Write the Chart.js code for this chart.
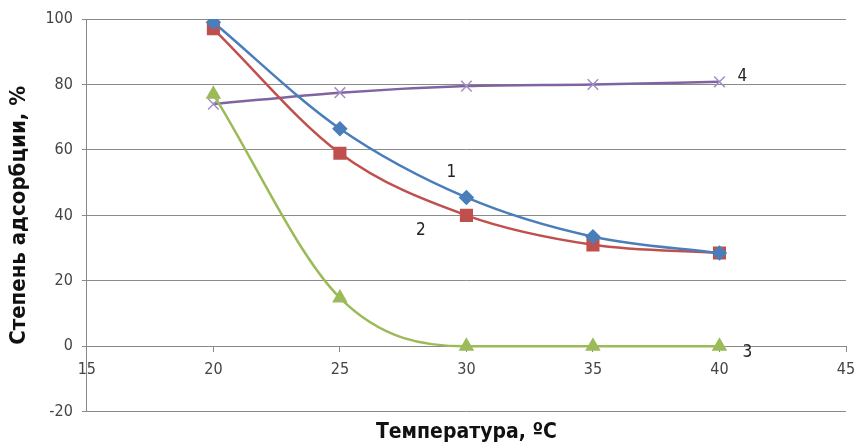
<!DOCTYPE html>
<html><head><meta charset="utf-8">
<script src="https://cdn.jsdelivr.net/npm/chart.js@4"></script>
<style>html,body{margin:0;padding:0;background:#fff}#wrap{width:856px;height:447px}</style>
</head><body><div id="wrap"><canvas id="c"></canvas></div>
<script>
const temperatures = [20, 25, 30, 35, 40];
const series1 = [99, 66.5, 45.5, 33.5, 28.5];
const series2 = [97, 59, 40, 31, 28.5];
const series3 = [77, 14.8, 0, 0, 0];
const series4 = [74, 77.5, 79.5, 80, 80.8];
const curveNames = ['1', '2', '3', '4'];
const curveLabelX = [29.4, 28.2, 41.1, 40.9];
const curveLabelY = [53, 35.5, -2, 82.5];

const pts = arr => arr.map((v, i) => ({x: temperatures[i], y: v}));
const FONT = '"DejaVu Sans Condensed", "Liberation Sans", sans-serif';

const curveLabels = {
  id: 'curveLabels',
  afterDatasetsDraw(chart) {
    const {ctx, scales: {x, y}} = chart;
    ctx.save();
    ctx.font = '17px ' + FONT;
    ctx.fillStyle = '#222';
    ctx.textAlign = 'center';
    ctx.textBaseline = 'middle';
    curveNames.forEach((t, i) => ctx.fillText(t, x.getPixelForValue(curveLabelX[i]), y.getPixelForValue(curveLabelY[i])));
    ctx.restore();
  }
};

const tickFont = {family: FONT, size: 16};

new Chart(document.getElementById('c'), {
  type: 'line',
  data: {
    datasets: [
      {data: pts(series1), borderColor: '#4A7EBB', backgroundColor: '#4A7EBB', pointStyle: 'rectRot', pointRadius: 6, borderWidth: 2.5},
      {data: pts(series2), borderColor: '#C0504D', backgroundColor: '#C0504D', pointStyle: 'rect', pointRadius: 7.5, borderWidth: 2.5},
      {data: pts(series3), borderColor: '#9BBB59', backgroundColor: '#9BBB59', pointStyle: 'triangle', pointRadius: 6.5, borderWidth: 2.5},
      {data: pts(series4), borderColor: '#8064A2', backgroundColor: '#8064A2', pointStyle: 'crossRot', pointRadius: 7.5, pointBorderColor: '#A090C4', pointBorderWidth: 1.5, borderWidth: 2.5}
    ]
  },
  options: {
    responsive: true,
    maintainAspectRatio: false,
    animation: false,
    cubicInterpolationMode: 'monotone',
    layout: {padding: {top: 19, right: 8, left: 6, bottom: 2}},
    plugins: {
      legend: {display: false},
      tooltip: {enabled: false}
    },
    scales: {
      x: {
        type: 'linear', min: 15, max: 45, position: {y: 0},
        afterFit(scale) { scale.paddingLeft = 0; scale.paddingRight = 0; },
        ticks: {stepSize: 5, color: '#444', font: tickFont, padding: 9},
        grid: {drawOnChartArea: false, drawTicks: true, tickLength: 5, color: '#888'},
        border: {color: '#888', width: 1}
      },
      xTitle: {
        type: 'linear', axis: 'x', min: 15, max: 45, position: 'bottom',
        afterFit(scale) { scale.paddingLeft = 0; scale.paddingRight = 0; },
        ticks: {display: false},
        grid: {display: false, drawTicks: false},
        border: {display: false},
        title: {display: true, text: 'Температура, ºC', color: '#111',
          font: {family: FONT, size: 21, weight: 'bold'}, padding: {top: 8, bottom: 0}}
      },
      y: {
        type: 'linear', min: -20, max: 100,
        ticks: {stepSize: 20, color: '#444', font: tickFont, padding: 9},
        grid: {color: '#8a8a8a', lineWidth: 1, tickLength: 5},
        border: {color: '#888', width: 1},
        title: {display: true, text: 'Степень адсорбции, %', color: '#111',
          font: {family: FONT, size: 22, weight: 'bold'}, padding: {top: 0, bottom: 4}}
      }
    }
  },
  plugins: [curveLabels]
});
</script></body></html>
